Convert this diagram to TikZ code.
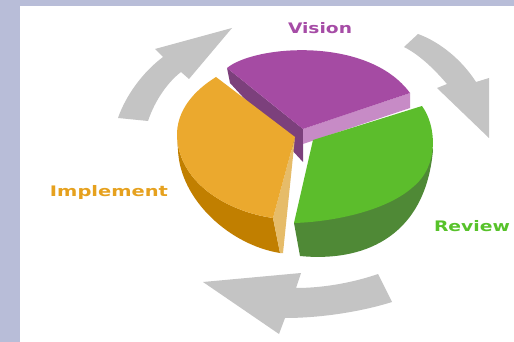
\documentclass[tikz,border=0pt]{standalone}
\usepackage{fontspec}
\newfontfamily\lblfont{DejaVu Sans Bold}
\definecolor{bgframe}{HTML}{B8BDD8}
\definecolor{arrowgray}{HTML}{C4C4C4}
\definecolor{purtop}{HTML}{A54BA3}
\definecolor{purlight}{HTML}{C78BC6}
\definecolor{purdark}{HTML}{7C407C}
\definecolor{orgtop}{HTML}{EBA92E}
\definecolor{orgside}{HTML}{C17F00}
\definecolor{orglight}{HTML}{E6BC69}
\definecolor{grntop}{HTML}{5CBD2C}
\definecolor{grnside}{HTML}{4F8936}
\definecolor{vistext}{HTML}{A64CA6}
\definecolor{imptext}{HTML}{E6A11E}
\definecolor{revtext}{HTML}{57C22A}
\tikzset{
  cyclearrow/.style={fill=arrowgray, draw=none},
  lbl/.style={anchor=base, inner sep=0pt, font=\lblfont\fontsize{14.5}{16}\selectfont},
}
\begin{document}
\begin{tikzpicture}[x=1pt,y=-1pt]
\useasboundingbox (0,0) rectangle (514,342);
\fill[bgframe] (0,0) rectangle (514,342);
\fill[white] (20,6) rectangle (514,342);

% cycle arrows
\fill[cyclearrow] (118,118) .. controls (126,95) and (143,72) .. (163,57)
  -- (155,49) -- (232,28) -- (189,79) -- (181,72)
  .. controls (168,82) and (155,100) .. (148,121) -- cycle;
\fill[cyclearrow] (418,34) .. controls (440,42) and (462,60) .. (476,82)
  -- (489,78) -- (489,138) -- (437,88) -- (447,84)
  .. controls (435,70) and (420,55) .. (404,47) -- cycle;
\fill[cyclearrow] (378,274) .. controls (355,282) and (325,288) .. (296,288)
  -- (301,273) -- (203,282) -- (279,334) -- (285,318)
  .. controls (320,318) and (360,312) .. (392,302) -- cycle;

% purple wedge (Vision)
\fill[purdark] (227,68) -- (303,129) -- (303,162) -- (230,83) -- cycle;
\fill[purlight] (303,129) -- (410,93) -- (410,108) -- (303,144) -- cycle;
\fill[purtop] (227,68) .. controls (255,45) and (368,36) .. (410,93) -- (303,129) -- cycle;

% orange wedge (Implement)
\fill[orgside] (177,137) .. controls (180,185) and (230,212) .. (273,218)
  -- (280,253) .. controls (230,245) and (180,200) .. (178,150) -- cycle;
\fill[orglight] (295,137) -- (283,253) -- (280,253) -- (273,218) -- cycle;
\fill[orgtop] (216,77) -- (295,137) -- (273,218)
  .. controls (230,212) and (180,185) .. (177,137)
  .. controls (176,110) and (195,90) .. (216,77) -- cycle;

% green wedge (Review)
\fill[grnside] (294,223) -- (300,256) .. controls (360,262) and (425,240) .. (433,150)
  -- (431,145) -- (360,150) -- cycle;
\fill[grntop] (313,140) -- (422,106) .. controls (436,125) and (440,165) .. (413,187)
  .. controls (385,212) and (330,222) .. (294,223) -- cycle;

% labels
\node[lbl, text=vistext] (vision) at (320,34) {\resizebox{64pt}{\height}{Vision}};
\node[lbl, text=imptext] (implement) at (109,196) {\resizebox{118pt}{\height}{Implement}};
\node[lbl, text=revtext] (review) at (472,231) {\resizebox{76pt}{\height}{Review}};
\end{tikzpicture}
\end{document}
